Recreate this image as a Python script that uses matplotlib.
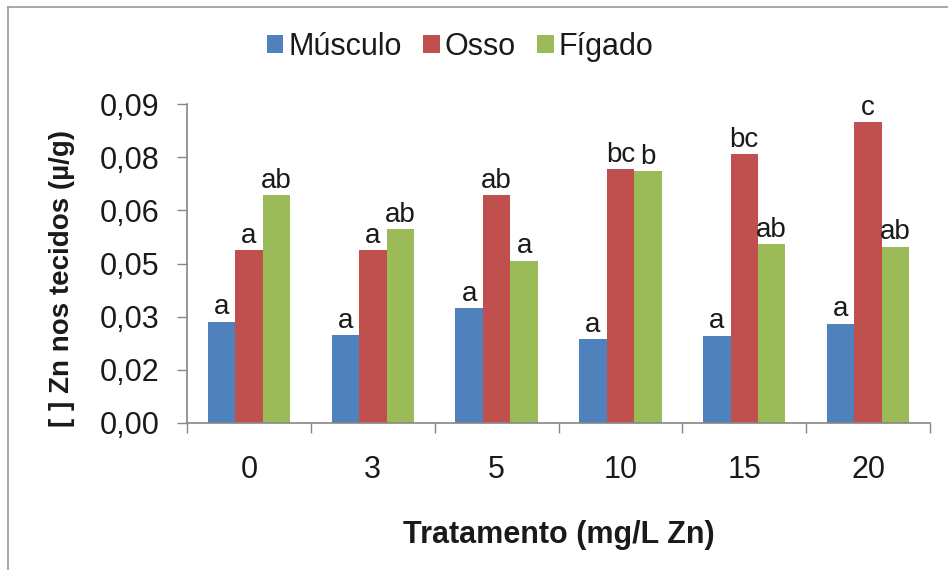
import matplotlib.pyplot as plt
import matplotlib.lines as mlines
import numpy as np

# data
tratamentos = ["0", "3", "5", "10", "15", "20"]
musculo = [0.0286, 0.0248, 0.0324, 0.0237, 0.0246, 0.0280]
osso = [0.0488, 0.0488, 0.0643, 0.0716, 0.0759, 0.0849]
figado = [0.0643, 0.0547, 0.0458, 0.0711, 0.0504, 0.0497]

letras_musculo = ["a", "a", "a", "a", "a", "a"]
letras_osso = ["a", "a", "ab", "bc", "bc", "c"]
letras_figado = ["ab", "ab", "a", "b", "ab", "ab"]

ytick_vals = [0.0, 0.015, 0.03, 0.045, 0.06, 0.075, 0.09]
ytick_labels = ["0,00", "0,02", "0,03", "0,05", "0,06", "0,08", "0,09"]

series = [
    ("Músculo", musculo, letras_musculo, "#4F81BD"),
    ("Osso", osso, letras_osso, "#C0504D"),
    ("Fígado", figado, letras_figado, "#9BBB59"),
]

FONT = ["Liberation Sans", "DejaVu Sans"]
TXT = "#1a1a1a"
SPINE = "#868686"
BAR_W = 0.222

fig = plt.figure(figsize=(9.48, 5.70), dpi=100, facecolor="white")
ax = fig.add_axes([0.1973, 0.2579, 0.7837, 0.5596])

x = np.arange(len(tratamentos))
handles = []
for k, (name, vals, letters, color) in enumerate(series):
    pos = x + (k - 1) * BAR_W
    bars = ax.bar(pos, vals, width=BAR_W, color=color, edgecolor="none", label=name)
    handles.append(bars)
    for rect, lab in zip(bars, letters):
        ax.annotate(lab, (rect.get_x() + rect.get_width() / 2, rect.get_height()),
                    xytext=(0, 1), textcoords="offset points",
                    ha="center", va="bottom", fontsize=20, color=TXT, family=FONT)

ax.set_xlim(-0.5, len(tratamentos) - 0.5)
ax.set_ylim(0, 0.09)

ax.set_yticks(ytick_vals)
ax.set_yticklabels(ytick_labels, fontsize=22, color=TXT, family=FONT)
ax.set_xticks(x)
ax.set_xticklabels(tratamentos, fontsize=22, color=TXT, family=FONT)
ax.set_xticks(np.arange(-0.5, len(tratamentos)), minor=True)
ax.tick_params(axis="x", which="major", length=0, pad=23)
ax.tick_params(axis="x", which="minor", length=7, width=1, color=SPINE)
ax.tick_params(axis="y", length=7, width=1, color=SPINE, pad=13)

for s in ["top", "right"]:
    ax.spines[s].set_visible(False)
for s in ["left", "bottom"]:
    ax.spines[s].set_color(SPINE)
    ax.spines[s].set_linewidth(1.2)

fig.text(0.589, 1 - 535 / 570, "Tratamento (mg/L Zn)", ha="center", va="center",
         fontsize=22, fontweight="bold", color=TXT, family=FONT)
fig.text(0.065, 0.512, "[ ] Zn nos tecidos (µ/g)", rotation=90, ha="center", va="center",
         fontsize=20, fontweight="bold", color=TXT, family=FONT)

fig.legend(handles=handles, loc="center", bbox_to_anchor=(0.485, 0.918), ncol=3,
           frameon=False, handlelength=0.55, handleheight=0.55, handletextpad=0.15,
           columnspacing=0.7, prop={"family": FONT, "size": 22}, labelcolor=TXT)

# outer chart border (top and left edges visible)
fig.add_artist(mlines.Line2D([8 / 948, 1], [1 - 7 / 570, 1 - 7 / 570], color="#9a9a9a", lw=1.2))
fig.add_artist(mlines.Line2D([8 / 948, 8 / 948], [0, 1 - 7 / 570], color="#9a9a9a", lw=1.2))

fig.savefig("out.png", dpi=100, facecolor="white")
